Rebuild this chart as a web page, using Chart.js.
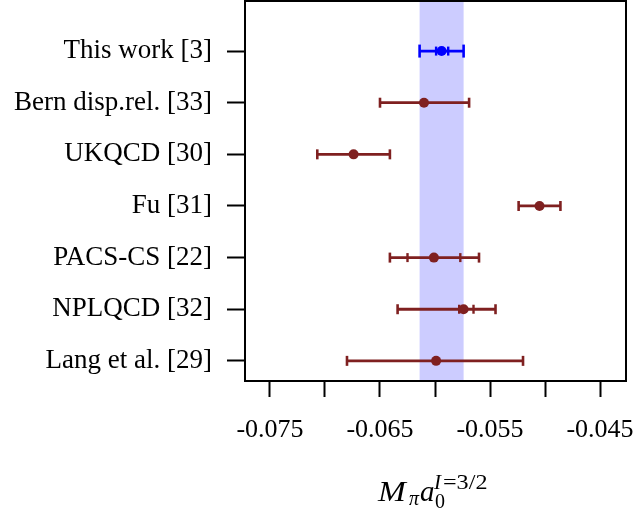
<!DOCTYPE html>
<html>
<head>
<meta charset="utf-8">
<script src="https://cdn.jsdelivr.net/npm/chart.js@4/dist/chart.umd.min.js"></script>
<style>
    html, body { margin: 0; padding: 0; background: #fff; }
    #wrap { width: 635px; height: 514px; position: relative; }
</style>
</head>
<body>
<div id="wrap"><canvas id="forest"></canvas></div>
<script>
const categories = ["This work [3]", "Bern disp.rel. [33]", "UKQCD [30]", "Fu [31]", "PACS-CS [22]", "NPLQCD [32]", "Lang et al. [29]"];
const centers = [-0.0594, -0.0610, -0.0674, -0.0505, -0.0601, -0.0574, -0.0599];
const outerLo = [-0.0614, -0.0650, -0.0707, -0.0524, -0.0641, -0.0634, -0.0680];
const outerHi = [-0.0574, -0.0569, -0.0641, -0.0486, -0.0560, -0.0545, -0.0520];
const innerLo = [-0.0599, null, null, null, -0.0625, -0.0578, null];
const innerHi = [-0.0588, null, null, null, -0.0577, -0.0565, null];
const bandLo = -0.0614;
const bandHi = -0.0574;
const xTicks = [-0.075, -0.070, -0.065, -0.060, -0.055, -0.050, -0.045];

const blue = '#0000ff';
const brown = '#7f2020';
const rowColor = i => i === 0 ? blue : brown;
const serif = "'Liberation Serif', 'DejaVu Serif', serif";

const datasets = [];

// central values on top
datasets.push({
    data: centers.map((c, i) => ({x: c, y: i})),
    pointStyle: 'circle',
    pointRadius: 5,
    pointBackgroundColor: centers.map((c, i) => rowColor(i)),
    pointBorderColor: centers.map((c, i) => rowColor(i)),
    pointBorderWidth: 0,
    showLine: false
});

// inner (statistical) caps
const innerPts = [];
const innerCols = [];
innerLo.forEach((lo, i) => {
    if (lo === null) return;
    innerPts.push({x: lo, y: i}, {x: innerHi[i], y: i});
    innerCols.push(rowColor(i), rowColor(i));
});
datasets.push({
    data: innerPts,
    pointStyle: 'line',
    rotation: 90,
    pointRadius: 4.5,
    pointBorderColor: innerCols,
    pointBorderWidth: 2.4,
    showLine: false
});

// outer bars with end caps
categories.forEach((name, i) => {
    datasets.push({
        data: [{x: outerLo[i], y: i}, {x: outerHi[i], y: i}],
        showLine: true,
        borderColor: rowColor(i),
        borderWidth: 2.8,
        pointStyle: 'line',
        rotation: 90,
        pointRadius: i === 0 ? 6.5 : 5,
        pointBorderColor: rowColor(i),
        pointBorderWidth: 2.6
    });
});

const boxPlugin = {
    id: 'boxPlugin',
    beforeDatasetsDraw(chart) {
        const {ctx, chartArea, scales} = chart;
        const x0 = scales.x.getPixelForValue(bandLo);
        const x1 = scales.x.getPixelForValue(bandHi);
        ctx.save();
        ctx.fillStyle = '#ccccff';
        ctx.fillRect(x0, chartArea.top, x1 - x0, chartArea.bottom - chartArea.top);
        ctx.restore();
    },
    afterDraw(chart) {
        const {ctx, chartArea} = chart;
        ctx.save();
        ctx.strokeStyle = '#000';
        ctx.lineWidth = 2;
        ctx.strokeRect(chartArea.left, chartArea.top, chartArea.right - chartArea.left, chartArea.bottom - chartArea.top);

        // axis title  M_pi a_0^{I=3/2}
        const base = 501;
        ctx.fillStyle = '#000';
        ctx.textBaseline = 'alphabetic';
        ctx.textAlign = 'left';
        ctx.font = "italic 29px " + serif;
        ctx.save();
        ctx.translate(378, base);
        ctx.scale(1.15, 1);
        ctx.fillText('M', 0, 0);
        ctx.restore();
        ctx.font = "italic 20px " + serif;
        ctx.fillText('π', 409, base + 4);
        ctx.font = "italic 29px " + serif;
        ctx.fillText('a', 420, base);
        ctx.font = "20px " + serif;
        ctx.fillText('0', 435, base + 7);
        ctx.font = "italic 21px " + serif;
        ctx.fillText('I', 434, base - 12);
        ctx.font = "21px " + serif;
        ctx.save();
        ctx.translate(443, base - 12);
        ctx.scale(1.15, 1);
        ctx.fillText('=3/2', 0, 0);
        ctx.restore();
        ctx.restore();
    }
};

new Chart('forest', {
    type: 'scatter',
    data: {datasets: datasets},
    options: {
        responsive: true,
        maintainAspectRatio: false,
        animation: false,
        layout: {autoPadding: false, padding: {top: 1, right: 9, left: 0, bottom: 0}},
        plugins: {legend: {display: false}, tooltip: {enabled: false}},
        scales: {
            x: {
                type: 'linear',
                min: -0.07727,
                max: -0.04264,
                afterBuildTicks: scale => { scale.ticks = xTicks.map(v => ({value: v})); },
                afterFit: scale => {
                    scale.height = 133;
                    scale.paddingLeft = 0;
                    scale.paddingRight = 0;
                },
                border: {display: false},
                grid: {drawOnChartArea: false, drawTicks: true, tickLength: 16, tickWidth: 2, tickColor: '#000'},
                ticks: {
                    autoSkip: false,
                    maxRotation: 0,
                    padding: 18,
                    color: '#000',
                    font: {family: serif, size: 26},
                    callback: (v, idx) => idx % 2 === 0 ? xTicks[idx].toFixed(3) : ''
                }
            },
            y: {
                type: 'linear',
                reverse: true,
                min: -0.97,
                max: 6.39,
                afterBuildTicks: scale => { scale.ticks = categories.map((c, i) => ({value: i})); },
                afterFit: scale => {
                    scale.width = 245;
                    scale.paddingTop = 0;
                    scale.paddingBottom = 0;
                },
                border: {display: false},
                grid: {drawOnChartArea: false, drawTicks: true, tickLength: 18, tickWidth: 2, tickColor: '#000'},
                ticks: {
                    autoSkip: false,
                    padding: 15,
                    color: '#000',
                    font: {family: serif, size: 27},
                    callback: (v, idx) => categories[idx]
                }
            }
        }
    },
    plugins: [boxPlugin]
});
</script>
</body>
</html>
